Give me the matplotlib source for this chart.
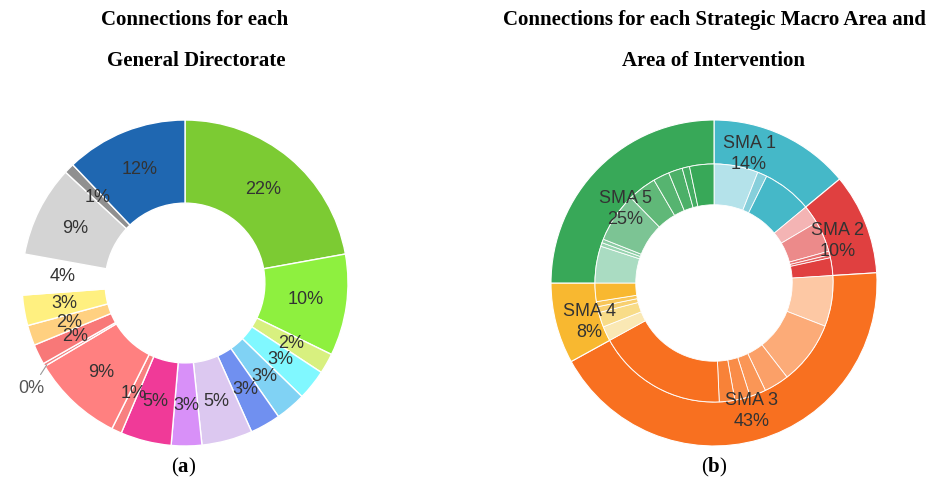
import numpy as np
import matplotlib
matplotlib.use("Agg")
import matplotlib.pyplot as plt

# ---- data: (a) connections per General Directorate (clockwise from 12 o'clock)
gd_values = [22, 10, 2, 3, 3, 3, 5, 3, 5, 1, 9, 0.3, 2, 2, 3, 4, 9, 1, 12]
gd_labels = ['22%', '10%', '2%', '3%', '3%', '3%', '5%', '3%', '5%', '1%', '9%', '0%',
             '2%', '2%', '3%', '4%', '9%', '1%', '12%']
gd_colors = ['#7ccb33', '#8ef03f', '#d8f07f', '#80f8ff', '#80d2f4', '#7090f0', '#dcc8f0',
             '#d890f8', '#f03a98', '#f88080', '#ff8080', '#f08080', '#f87878', '#ffd080',
             '#fff080', '#ffffff', '#d4d4d4', '#909090', '#1f67b1']

# ---- data: (b) Strategic Macro Areas and areas of intervention
sma_names = ['SMA 1', 'SMA 2', 'SMA 3', 'SMA 4', 'SMA 5']
sma_values = [14, 10, 43, 8, 25]
sma_colors = ['#45b8c8', '#e04040', '#f87020', '#f8b830', '#38a858']
area_values = [
    [6.0, 1.3, 6.7],
    [2.5, 4.2, 0.5, 0.4, 2.4],
    [6.9, 8.6, 3.4, 2.2, 2.1, 2.1, 17.7],
    [2.0, 2.0, 0.8, 0.7, 2.5],
    [5.0, 0.5, 0.5, 6.7, 3.9, 2.2, 1.9, 1.0, 3.3],
]
area_colors = [
    ['#b4e2ea', '#86cfdb', '#45b8c8'],
    ['#f4b4b4', '#ec8a8a', '#e87070', '#e46060', '#e04040'],
    ['#fdc8a4', '#fcab78', '#fba068', '#fa9656', '#f98c48', '#f88238', '#f87020'],
    ['#fae8b4', '#f8dc88', '#f8d070', '#f8c658', '#f8b830'],
    ['#aadcc2', '#98d4b0', '#8ccca4', '#7cc494', '#60b878', '#56b470', '#4cb068',
     '#44ac62', '#38a858'],
]

plt.rcParams['font.family'] = ['Liberation Sans', 'DejaVu Sans']
plt.rcParams['mathtext.fontset'] = 'custom'
plt.rcParams['mathtext.rm'] = 'Liberation Serif'
plt.rcParams['mathtext.bf'] = 'Liberation Serif:bold'

W, H = 929, 480
fig = plt.figure(figsize=(W / 100, H / 100), dpi=100)
txt_col = '#333333'


def donut_axes(cx, cy, r):
    ax = fig.add_axes([(cx - r) / W, (H - cy - r) / H, 2 * r / W, 2 * r / H])
    return ax


def fix_limits(ax):
    # pie() resets the limits, so set them afterwards
    ax.set_xlim(-1, 1)
    ax.set_ylim(-1, 1)
    ax.set_aspect('equal')
    ax.axis('off')


# ---------------- (a)
ax1 = donut_axes(185, 283, 163)
wedges, _ = ax1.pie(gd_values, colors=gd_colors, startangle=90, counterclock=False,
                    radius=1, wedgeprops=dict(width=0.51, edgecolor='white', linewidth=1))
fix_limits(ax1)
for w, lab in zip(wedges, gd_labels):
    mid = np.deg2rad((w.theta1 + w.theta2) / 2)
    if lab == '0%':
        ax1.annotate(lab, xy=(0.97 * np.cos(mid), 0.97 * np.sin(mid)), xytext=(-0.86, -0.645),
                     ha='right', va='center', fontsize=13, color='#555555',
                     arrowprops=dict(arrowstyle='-', color='#999999', lw=0.8))
        continue
    ax1.text(0.75 * np.cos(mid), 0.75 * np.sin(mid), lab, ha='center', va='center',
             fontsize=13, color=txt_col)

# ---------------- (b)
ax2 = donut_axes(714, 283, 163)
outer, _ = ax2.pie(sma_values, colors=sma_colors, startangle=90, counterclock=False,
                   radius=1, wedgeprops=dict(width=0.27, edgecolor='white', linewidth=0.8))
flat_vals = [v for grp in area_values for v in grp]
flat_cols = [c for grp in area_colors for c in grp]
ax2.pie(flat_vals, colors=flat_cols, startangle=90, counterclock=False,
        radius=0.73, wedgeprops=dict(width=0.25, edgecolor='white', linewidth=0.6))
fix_limits(ax2)
label_shift = [-10, 3, 0, -3, -5]
label_r = [0.82, 0.80, 0.82, 0.80, 0.71]
for w, name, v, sh, rr in zip(outer, sma_names, sma_values, label_shift, label_r):
    mid = np.deg2rad((w.theta1 + w.theta2) / 2 - sh)
    ax2.text(rr * np.cos(mid), rr * np.sin(mid), f'{name}\n{v}%', ha='center', va='center',
             fontsize=13, color=txt_col, linespacing=1.3)

# ---------------- titles and captions
tkw = dict(ha='center', va='center', fontsize=15, fontweight='bold',
           family='Liberation Serif', color='black')
fig.text(195 / W, 1 - 20 / H, 'Connections for each', **tkw)
fig.text(196 / W, 1 - 61 / H, 'General Directorate', **tkw)
fig.text(714 / W, 1 - 20 / H, 'Connections for each Strategic Macro Area and', **tkw)
fig.text(714 / W, 1 - 61 / H, 'Area of Intervention', **tkw)
fig.text(184 / W, 1 - 467 / H, r'$\mathrm{(}\mathbf{a}\mathrm{)}$', ha='center', va='center',
         fontsize=15)
fig.text(714 / W, 1 - 467 / H, r'$\mathrm{(}\mathbf{b}\mathrm{)}$', ha='center', va='center',
         fontsize=15)

fig.savefig('out.png', dpi=100, facecolor='white')
